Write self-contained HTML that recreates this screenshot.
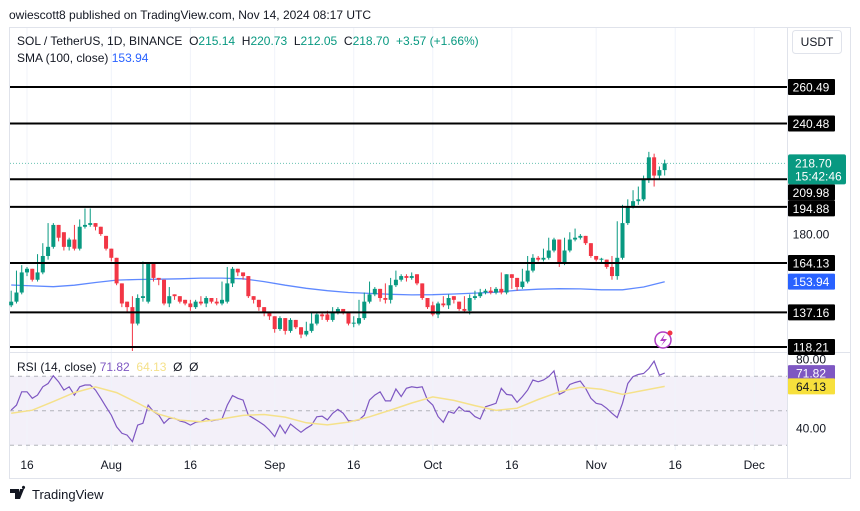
<!DOCTYPE html>
<html><head><meta charset="utf-8"><style>
html,body{margin:0;padding:0;background:#fff;}
body{width:860px;height:511px;overflow:hidden;position:relative;font-family:"Liberation Sans",sans-serif;}
svg{position:absolute;left:0;top:0;}
</style></head><body>
<svg id="c" width="860" height="511" xmlns="http://www.w3.org/2000/svg"></svg>
<script>
const opens=[141,143,148,159,161,155,159,168,173,185,181,173,177,172,184,185,186,184,179,172,167,153,143,140,131,145,143,164,156,155,142,147,146,144,142,140,143,142,145,143,142,143,153,161,159,157,146,144,140,137,135,128,134,127,133,129,125,127,131,136,136,133,137,
139,137,131,131,134,143,147,150,145,144,152,155,157,156,158,153,145,141,136,142,141,146,143,139,138,145,146,148,149,148,150,148,158,156,151,154,160,167,166,167,171,177,164,171,177,178,179,175,168,166,166,162,157,167,186,195,198,199,210,222,212,215];
const closes=[143,148,159,161,155,159,168,173,185,178,173,177,172,184,185,186,184,180,172,167,153,142,140,131,145,146,164,156,155,142,146,146,143,142,140,143,142,145,143,142,144,153,161,159,157,146,144,140,137,135,128,134,127,133,129,125,127,131,136,135,133,137,139,
137,131,131.5,134,143,147,150,145,144,152,155,157,156,157,153,145,140,136,142,141,145,144,139,138,145,146,148,149,148,150,148,158,156,151,154,160,167,166,167,171,177,164,171,177,178,179,175,168,166,166.5,162,157,167,186,195,198,199,210,222,212,215,218.7];
const highs=[144,149,160,163,162,160,169,175,186,186,182,179,178,185,188,194,194,185,180,173,168,154,145,141,146,147,165,164,157,156,147,151,147,145,143,144,144,146,146,144,145,154,162,162,160,158,147,145,141,138,136,135,135,134,134,130,128,132,137,137,137,138,140,
140,138,132,135,144,148,154,151,146,153,156,160,158,158,159,154,146,142,143,143,146,147,144,140,146,147,149,150,150,151,151,159,158,157,155,161,168,169,168,172,178,178,172,178,181,183,180,175,169,167,167,163,168,187,196,199,204,206,212,225,224,217,220.7];
const lows=[140,142,147,157,154,154,158,166,172,176,171,171,171,171,183,184,182,179,171,165,152,140,137,116,130,143,142,154,152,141,140,144,142,141,138,139,141,140,142,141,141,142,151,157,155,145,142,138,135,133,126,127,125,126,128,123,124,126,130,133,132,132,136,
136,130,129,130,133,142,146,143,142,142,151,154,154,155,152,144,139,135,134,140,139,142,138,137,136,144,145,147,147,147,147,147,150,149,150,153,159,165,165,166,170,162,163,170,176,177,174,167,165,164,161,155,155,166,185,194,196,198,208,206,210,212.05];
const smaValues=[152.1,151.6,151.2,152,153.5,154.8,155.1,155.3,155.5,155.9,155.9,155.5,154,152,150.3,149,148,147.5,147,146.7,146.8,147.2,147.7,148.2,149.2,149.8,150.1,150,149.5,149.5,151,153.9];
const rsiValues=[50.4,53.3,61,61,57.2,59.1,63.9,65.8,70.3,66.8,62,63.9,59.1,63.9,64.9,64.9,62,57.2,52.3,47.5,40.7,36.9,35.9,32.1,41.7,42.7,53.3,49.5,47.5,42.7,45.6,45.6,44.1,43.3,41.7,43.3,43.7,45.6,44.1,44.7,45.2,53.3,58.8,57.2,56.2,47.5,45.6,43.7,41.7,38.8,35,41.7,36.9,42.3,39.8,37.5,39.8,41.7,46.5,46.9,44.7,48.5,50.8,48.5,44.1,44.1,44.7,47.5,56.2,59.1,61,55.7,55.7,62.6,58.2,63,63.9,63.4,63.9,56.2,53.3,
46.6,43.3,49.5,48.5,52.3,49.8,49.5,46.6,45.2,52.3,53.3,54.3,63,59.5,59.1,54.9,58.2,62,67.8,66.8,67.8,69.8,73.1,59.5,61,65.2,66.4,67.2,63,57.2,54.3,53.7,51.4,48.5,46,54.3,65.8,69.8,71,71.6,74.5,78.7,70.6,71.82];
const rsiMaValues=[48.6,50.3,55.3,60.5,63.8,60.5,54.5,48,44.6,43.6,45.3,47.3,47.8,46.3,43,41.8,43.4,46.5,50.4,54.5,58,56,53,50.2,51.5,56.5,61,63.6,62.5,59.5,61.8,64.13];
const levelValues=[260.49,240.48,209.98,194.88,164.13,137.16,118.21];
const timeLabels=["16","Aug","16","Sep","16","Oct","16","Nov","16","Dec"];
const timeDays=[0,16,31,47,62,77,92,108,123,138];
const lastDay=121, current=218.70, smaLast=153.94, rsiLast=71.82, rsiMaLast=64.13;

const NS="http://www.w3.org/2000/svg", svg=document.getElementById('c');
const X=d=>27+d*5.27;
const Y=p=>87+(260.49-p)*1.827;
const RY=r=>359+(80-r)*1.725;
function mk(tag,attrs,parent){const e=document.createElementNS(NS,tag);for(const k in attrs)e.setAttribute(k,attrs[k]);(parent||svg).appendChild(e);return e;}
function txt(x,y,s,attrs){const e=mk('text',Object.assign({x:x,y:y,'font-family':'Liberation Sans, sans-serif','font-size':12},attrs));e.textContent=s;return e;}

let t=txt(9,19,"owiescott8 published on TradingView.com, Nov 14, 2024 08:17 UTC",{fill:'#131722','font-size':12});


let f=mk('rect',{x:9.5,y:27.5,width:841,height:451,fill:'none',stroke:'#e0e3eb'});


let rb=mk('rect',{x:10,y:RY(70),width:777,height:RY(30)-RY(70),fill:'#7e57c2','fill-opacity':0.09});


timeDays.forEach(d=>{let g=mk('line',{x1:X(d),x2:X(d),y1:28,y2:450,stroke:'#f0f3fa'});

});
let ps=mk('line',{x1:10,x2:850,y1:352.5,y2:352.5,stroke:'#e0e3eb'});


let as=mk('line',{x1:787.5,x2:787.5,y1:28,y2:478,stroke:'#e0e3eb'});


[70,50,30].forEach(r=>{let l=mk('line',{x1:10,x2:787,y1:RY(r),y2:RY(r),stroke:'#9598a1','stroke-dasharray':'4,4','stroke-width':1,'stroke-opacity':0.7});

});
let cp=mk('line',{x1:10,x2:787,y1:Y(current),y2:Y(current),stroke:'#089981','stroke-dasharray':'1,2','stroke-opacity':0.6});


let sp=smaValues.map((v,i)=>X(lastDay-(smaValues.length-1-i)*4).toFixed(1)+','+Y(v).toFixed(1)).join(' ');
let sl=mk('polyline',{points:sp,fill:'none',stroke:'#2962ff','stroke-opacity':0.75,'stroke-width':1.3});


const N=Math.min(opens.length,closes.length,highs.length,lows.length);
const oo=opens.slice(-N),cc=closes.slice(-N),hh=highs.slice(-N),ll=lows.slice(-N);
for(let i=0;i<N;i++){
  const d=lastDay-(N-1-i), x=X(d), up=cc[i]>=oo[i], col=up?'#089981':'#f23645';
  const g=mk('g',{});
  
  
  const hi=Math.max(hh[i],oo[i],cc[i]), lo=Math.min(ll[i],oo[i],cc[i]);
  mk('line',{x1:x,x2:x,y1:Y(hi),y2:Y(lo),stroke:col,'stroke-width':1},g);
  const top=Y(Math.max(oo[i],cc[i])), bot=Y(Math.min(oo[i],cc[i]));
  mk('rect',{x:x-2,y:top,width:4,height:Math.max(1,bot-top),fill:col},g);
}
levelValues.forEach(v=>{
  let l=mk('line',{x1:10,x2:787,y1:Y(v),y2:Y(v),stroke:'#000','stroke-width':2});
  
  
});
let rp=rsiValues.map((v,i)=>X(lastDay-(rsiValues.length-1-i)).toFixed(1)+','+RY(v).toFixed(1)).join(' ');
let rl=mk('polyline',{points:rp,fill:'none',stroke:'#7e57c2','stroke-width':1.2});


let mp=rsiMaValues.map((v,i)=>X(lastDay-(rsiMaValues.length-1-i)*4).toFixed(1)+','+RY(v).toFixed(1)).join(' ');
let ml=mk('polyline',{points:mp,fill:'none',stroke:'#f5e18a','stroke-width':1.5});


function box(y,label,bg,fg,name,h){
  const g=mk('g',{});
  
  
  mk('rect',{x:788,y:y-(h||16)/2,width:47,height:h||16,fill:bg,rx:1},g);
  const e=txt(811,y+4.5,label,{fill:fg,'text-anchor':'middle','font-size':12});
  g.appendChild(e);
}
[[180,'180.00']].forEach(p=>{let e=txt(811,Y(p[0])+4.5,p[1],{fill:'#131722','text-anchor':'middle'});

});
[[80,'80.00'],[40,'40.00']].forEach(p=>{let e=txt(811,RY(p[0])+4.5,p[1],{fill:'#131722','text-anchor':'middle'});

});
// labels; overlapping ones pushed down below the current-price box
const curTop=Y(current)-9, curBot=curTop+30;
let prevBottom=curBot;
levelValues.forEach(v=>{
  let y=Y(v);
  if(v<current && y-8<prevBottom && y>curTop){y=prevBottom+8;prevBottom=y+8;}
  box(y,v.toFixed(2),'#000','#fff','level-label');
});
box(Y(smaLast),smaLast.toFixed(2),'#2962ff','#fff','sma-label');
(function(){const g=mk('g',{});


mk('rect',{x:788,y:curTop,width:58,height:30,fill:'#089981',rx:2},g);
g.appendChild(txt(795,curTop+13,current.toFixed(2),{fill:'#fff'}));
g.appendChild(txt(795,curTop+26,'15:42:46',{fill:'#fff'}));})();
box(RY(rsiLast),rsiLast.toFixed(2),'#7e57c2','#fff','rsi-label');
box(RY(rsiMaLast),rsiMaLast.toFixed(2),'#f7e03c','#131722','rsi-ma-label');
timeLabels.forEach((s,i)=>{let e=txt(X(timeDays[i]),469,s,{fill:'#131722','text-anchor':'middle'});

});
(function(){const g=mk('g',{});


mk('rect',{x:792.5,y:30.5,width:49,height:23,fill:'#fff',stroke:'#e0e3eb',rx:3},g);
g.appendChild(txt(817,46,'USDT',{fill:'#131722','text-anchor':'middle'}));})();
(function(){const g=mk('g',{});


const e=txt(17,45,'',{fill:'#131722','style':'white-space:pre'});g.appendChild(e);
const parts=[['SOL / TetherUS, 1D, BINANCE  ','#131722'],['O','#131722'],['215.14  ','#089981'],['H','#131722'],['220.73  ','#089981'],['L','#131722'],['212.05  ','#089981'],['C','#131722'],['218.70  ','#089981'],['+3.57 (+1.66%)','#089981']];
parts.forEach(p=>{const s=document.createElementNS(NS,'tspan');s.setAttribute('fill',p[1]);s.textContent=p[0];e.appendChild(s);});
})();
(function(){const g=mk('g',{});


const e=txt(17,62,'SMA (100, close) ',{fill:'#131722','style':'white-space:pre'});g.appendChild(e);
const s=document.createElementNS(NS,'tspan');s.setAttribute('fill','#2962ff');s.textContent='153.94';e.appendChild(s);})();
(function(){const g=mk('g',{});


const e=txt(17,371,'RSI (14, close) ',{fill:'#131722','style':'white-space:pre'});g.appendChild(e);
[['71.82  ','#7e57c2'],['64.13  ','#f5e18a'],['Ø  Ø','#131722']].forEach(p=>{const s=document.createElementNS(NS,'tspan');s.setAttribute('fill',p[1]);s.textContent=p[0];e.appendChild(s);});})();
(function(){const g=mk('g',{});


mk('circle',{cx:663,cy:340,r:8,fill:'#fff',stroke:'#b03cc4','stroke-width':1.5},g);
mk('path',{d:'M665,334 L660,341 L664,341 L661,346 L667,339 L663,339 Z',fill:'#b03cc4'},g);
mk('circle',{cx:670,cy:333,r:2.5,fill:'#f23645'},g);})();
(function(){const g=mk('g',{});


mk('path',{d:'M10,489 h9 v10 h-4 v-6 h-5 z M20,489 h4 l-4,10 h-3 z M23.5,489 a1.6,1.6 0 1 1 0.01,0',fill:'#131722'},g);
g.appendChild(txt(32,499,'TradingView',{fill:'#131722','font-size':13}));})();
</script>
</body></html>
